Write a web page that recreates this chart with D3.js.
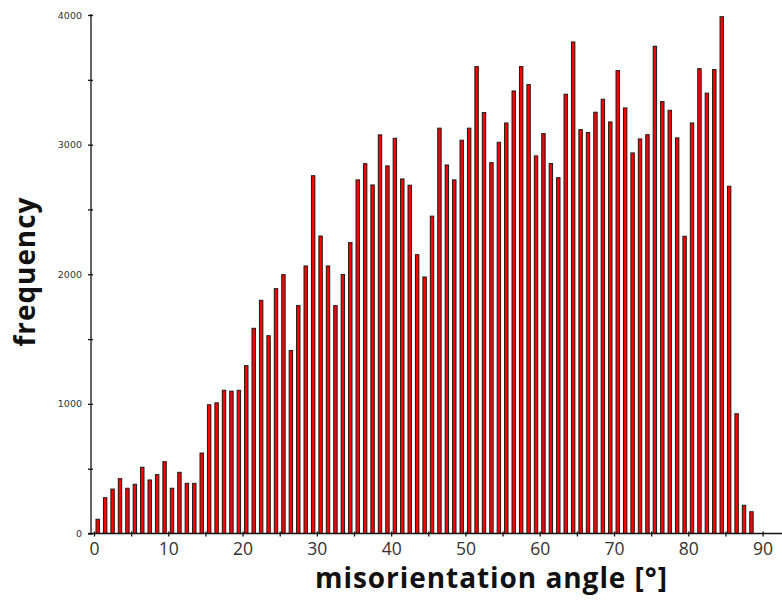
<!DOCTYPE html>
<html>
<head>
<meta charset="utf-8">
<script src="https://cdn.jsdelivr.net/npm/d3@7"></script>
<style>
  html, body { margin: 0; padding: 0; background: #fff; }
  svg { display: block; }
</style>
</head>
<body>
<svg id="chart" width="782" height="603"></svg>
<script>
// Misorientation angle histogram, 1° bins from 0° to 89°
const binStarts = d3.range(0, 89, 1);
const frequency = [
  110, 276, 343, 423, 349, 380, 511, 413, 454, 554,
  349, 472, 387, 387, 621, 993, 1008, 1105, 1098, 1105,
  1295, 1583, 1799, 1526, 1889, 1997, 1411, 1758, 2064, 2760,
  2295, 2064, 1758, 1998, 2244, 2728, 2853, 2689, 3075, 2836,
  3049, 2735, 2687, 2151, 1979, 2448, 3127, 2843, 2728, 3034,
  3127, 3602, 3247, 2861, 3018, 3167, 3414, 3602, 3463, 2913,
  3085, 2854, 2745, 3389, 3792, 3116, 3093, 3250, 3350, 3175,
  3571, 3283, 2936, 3044, 3077, 3759, 3332, 3265, 3052, 2293,
  3167, 3586, 3397, 3579, 3987, 2679, 924, 218, 168
];
const xTicks = [0, 5, 10, 15, 20, 25, 30, 35, 40, 45, 50, 55, 60, 65, 70, 75, 80, 85, 90];
const xTickLabels = ["0", "", "10", "", "20", "", "30", "", "40", "", "50", "", "60", "", "70", "", "80", "", "90"];
const yTicks = [0, 500, 1000, 1500, 2000, 2500, 3000, 3500, 4000];
const yTickLabels = ["0", "", "1000", "", "2000", "", "3000", "", "4000"];

const bins = binStarts.map((b, i) => ({ start: b, value: frequency[i] }));

const svg = d3.select("#chart");

const x = d3.scaleLinear().domain([0, 90]).range([94, 762.6]);
const y = d3.scaleLinear().domain([0, 4000]).range([533.5, 15]);

const binPx = x(1) - x(0);
const barW = binPx * 0.46;

// bars
svg.append("g")
  .selectAll("rect")
  .data(bins)
  .join("rect")
  .attr("x", d => x(d.start + 0.5) - barW / 2)
  .attr("y", d => y(d.value))
  .attr("width", barW)
  .attr("height", d => y(0) - y(d.value))
  .attr("fill", "#ff0000")
  .attr("stroke", "#1a1a1a")
  .attr("stroke-width", 1);

// x axis
const xAxis = svg.append("g")
  .attr("transform", `translate(0,${y(0)})`)
  .call(d3.axisBottom(x)
    .tickValues(xTicks)
    .tickSize(3)
    .tickPadding(8)
    .tickFormat((d, i) => xTickLabels[i]));
xAxis.select(".domain").remove();
xAxis.append("line")
  .attr("x1", 88).attr("x2", 782)
  .attr("y1", 0).attr("y2", 0)
  .attr("stroke", "#111").attr("stroke-width", 1.3);
xAxis.selectAll(".tick line").attr("y1", -2).attr("y2", 3).attr("stroke", "#111").attr("stroke-width", 1.3);
xAxis.selectAll(".tick text")
  .attr("font-family", "'Open Sans', sans-serif")
  .attr("font-size", 17.5)
  .attr("fill", "#333")
  .attr("dy", "0.71em")
  .attr("y", 9);

// y axis
const yAxis = svg.append("g")
  .attr("transform", "translate(91,0)")
  .call(d3.axisLeft(y)
    .tickValues(yTicks)
    .tickSize(3)
    .tickPadding(6)
    .tickFormat((d, i) => yTickLabels[i]));
yAxis.select(".domain").remove();
yAxis.append("line")
  .attr("x1", 0).attr("x2", 0)
  .attr("y1", y(4000) - 1).attr("y2", y(0) + 1)
  .attr("stroke", "#111").attr("stroke-width", 1.3);
yAxis.selectAll(".tick line").attr("x1", -3).attr("x2", 2).attr("stroke", "#111").attr("stroke-width", 1.3);
yAxis.selectAll(".tick text")
  .attr("font-family", "'DejaVu Sans', sans-serif")
  .attr("font-size", 9.5)
  .attr("fill", "#333");

// axis titles
svg.append("text")
  .attr("x", 491)
  .attr("y", 588)
  .attr("text-anchor", "middle")
  .attr("font-family", "'Open Sans', sans-serif")
  .attr("font-weight", "bold")
  .attr("font-size", 28)
  .attr("textLength", 352)
  .attr("lengthAdjust", "spacing")
  .attr("fill", "#111")
  .text("misorientation angle [°]");

svg.append("text")
  .attr("transform", "translate(35,272) rotate(-90)")
  .attr("text-anchor", "middle")
  .attr("font-family", "'Open Sans', sans-serif")
  .attr("font-weight", "bold")
  .attr("font-size", 28)
  .attr("textLength", 149)
  .attr("lengthAdjust", "spacing")
  .attr("fill", "#111")
  .text("frequency");
</script>
</body>
</html>
